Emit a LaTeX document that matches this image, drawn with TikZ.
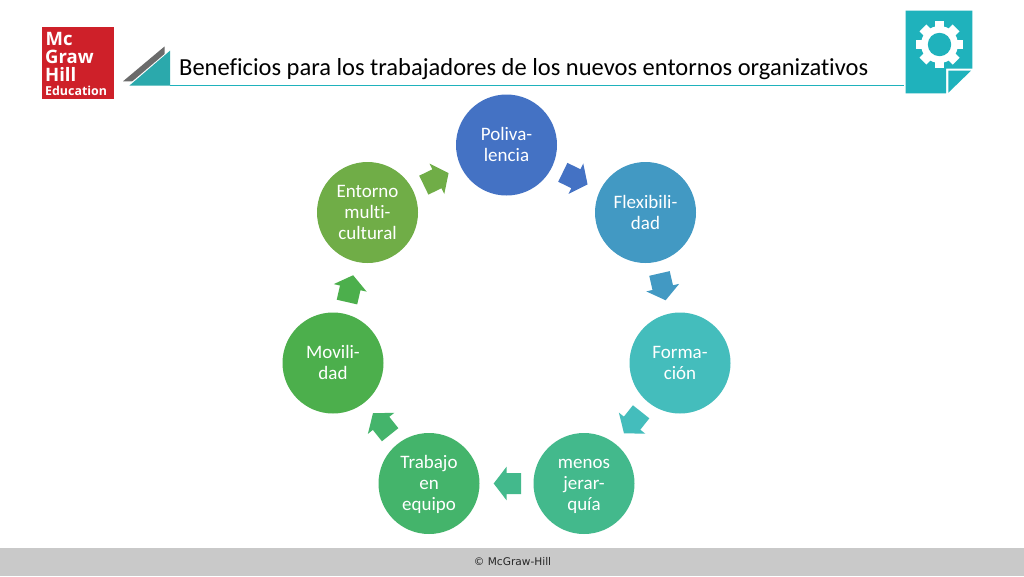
\documentclass[tikz,border=0pt]{standalone}
\usepackage{fontspec}
\setmainfont{Carlito}[Ligatures=NoCommon]
\newfontfamily\logofont{Open Sans}
\newfontfamily\footfont{DejaVu Sans}
\usetikzlibrary{shapes.arrows}
\definecolor{cA}{HTML}{4472C4}
\definecolor{cB}{HTML}{4299C3}
\definecolor{cC}{HTML}{44BDBC}
\definecolor{cD}{HTML}{43B98C}
\definecolor{cE}{HTML}{44B46B}
\definecolor{cF}{HTML}{4CAF4C}
\definecolor{cG}{HTML}{70AD47}
\definecolor{teal}{HTML}{1FB2BC}
\definecolor{tealtri}{HTML}{2BA9AC}
\definecolor{grayband}{HTML}{C9C9C9}
\definecolor{logored}{HTML}{CE2029}
\newcommand\stT{\rule{0pt}{16.7pt}}
\newcommand\stB{\rule[-4.3pt]{0pt}{4.3pt}}
\tikzset{
  stage/.style={circle,minimum size=101pt,inner sep=0pt,text=white,align=center,
    font=\fontsize{19}{21}\selectfont},
  flow/.style={single arrow,minimum height=27.5pt,inner xsep=0pt,inner ysep=10.3pt,
    single arrow head extend=6.4pt,single arrow tip angle=105,single arrow head indent=0pt,
    sloped,allow upside down,pos=0.468},
  logotext/.style={anchor=base west,text=white,inner sep=0pt,font=\logofont\bfseries}
}
\begin{document}
\begin{tikzpicture}[x=1pt,y=-1pt]
\useasboundingbox (0,0) rectangle (1024,576);
\fill[white] (0,0) rectangle (1024,576);
% footer
\fill[grayband] (0,548) rectangle (1024,576);
\node[font=\footfont\fontsize{10.6}{12}\selectfont,text=black!85] (foot) at (512.5,562) {© McGraw-Hill};
% logo
\node[fill=logored,minimum width=72pt,minimum height=72pt,inner sep=0pt] (logo) at (78,62.5) {};
\node[logotext,font=\logofont\bfseries\fontsize{18.5}{20}\selectfont] (l1) at (45.5,45.3) {Mc};
\node[logotext,font=\logofont\bfseries\fontsize{18.5}{20}\selectfont] (l2) at (45,63) {Graw};
\node[logotext,font=\logofont\bfseries\fontsize{18.5}{20}\selectfont] (l3) at (45,81) {Hill};
\node[logotext,font=\logofont\bfseries\fontsize{12.4}{14}\selectfont] (l4) at (45,95) {Education};
% title ornament
\fill[black!58] (164.5,46.5) -- (123,81.3) -- (164.5,81.3) -- cycle;
\fill[white] (170,49.5) -- (127,86) -- (170,86) -- cycle;
\fill[tealtri] (170,50.7) -- (129.3,85.7) -- (170,85.7) -- cycle;
\draw[teal,line width=1.2pt] (170,85.5) -- (904,85.5);
\node[anchor=base west,inner sep=0pt,text=black,font=\fontsize{24.5}{28}\selectfont] (title) at (179,75) {Beneficios para los trabajadores de los nuevos entornos organizativos};
% document icon
\fill[teal] (905.7,10.7) -- (972.3,10.7) -- (972.3,68.5) -- (946,68.5) -- (946,93.3) -- (905.7,93.3) -- cycle;
\fill[teal] (948.3,70.7) -- (971,70.7) -- (948.3,92.7) -- cycle;
\fill[white] (939.5,44.5) circle (18.5);
\foreach \a in {0,45,...,315}{
  \fill[white,rotate around={\a:(939.5,44.5)}] (934.7,44.5) rectangle (944.3,21);
}
\fill[teal] (939.5,44.5) circle (11.7);
% stages
\node[stage,fill=cA] (a) at (506.5,145) {\stT Poliva-\\lencia\stB};
\node[stage,fill=cB] (b) at (645.5,212.5) {\stT Flexibili-\\dad\stB};
\node[stage,fill=cC] (c) at (680,363) {\stT Forma-\\ción\stB};
\node[stage,fill=cD] (d) at (584,483.5) {\stT menos\\jerar-\\quía\stB};
\node[stage,fill=cE] (e) at (429,483.5) {\stT Trabajo\\en\\equipo\stB};
\node[stage,fill=cF] (f) at (333,363) {\stT Movili-\\dad\stB};
\node[stage,fill=cG] (g) at (367.5,212.5) {\stT Entorno\\multi-\\cultural\stB};
% connectors
\path (a.center) -- (b.center) node[flow,fill=cA] (ab) {};
\path (b.center) -- (c.center) node[flow,fill=cB] (bc) {};
\path (c.center) -- (d.center) node[flow,fill=cC] (cd) {};
\path (d.center) -- (e.center) node[flow,fill=cD] (de) {};
\path (e.center) -- (f.center) node[flow,fill=cE] (ef) {};
\path (f.center) -- (g.center) node[flow,fill=cF] (fg) {};
\path (g.center) -- (a.center) node[flow,fill=cG] (ga) {};
\end{tikzpicture}
\end{document}
